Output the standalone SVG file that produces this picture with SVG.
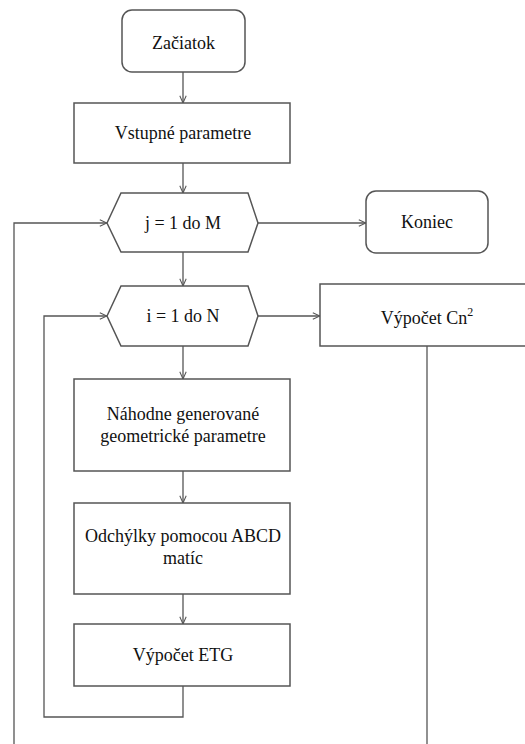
<svg xmlns="http://www.w3.org/2000/svg" width="525" height="744" viewBox="0 0 525 744" font-family="Liberation Serif, DejaVu Serif, serif">
<style>
.n{fill:#fff;stroke:#555;stroke-width:1.5}
.c{fill:none;stroke:#555;stroke-width:1.3}
.t{font-size:18px;fill:#111;text-anchor:middle}
</style>
<defs>
<marker id="a" viewBox="0 0 10 10" refX="10" refY="5" markerWidth="8" markerHeight="8" orient="auto" markerUnits="userSpaceOnUse">
<path d="M1,1 L10,5 L1,9" fill="none" stroke="#555" stroke-width="1.3"/>
</marker>
</defs>
<rect width="525" height="744" fill="#fff"/>
<g id="connectors">
<path class="c" d="M183,72 V103" marker-end="url(#a)"/>
<path class="c" d="M183,163 V193" marker-end="url(#a)"/>
<path class="c" d="M258,223 H366" marker-end="url(#a)"/>
<path class="c" d="M183,252 V286" marker-end="url(#a)"/>
<path class="c" d="M258,316 H320" marker-end="url(#a)"/>
<path class="c" d="M183,346 V379" marker-end="url(#a)"/>
<path class="c" d="M183,471 V503" marker-end="url(#a)"/>
<path class="c" d="M183,594 V624" marker-end="url(#a)"/>
<path class="c" d="M183,686 V717 H44 V316 H107" marker-end="url(#a)"/>
<path class="c" d="M14,744 V223 H107" marker-end="url(#a)"/>
<path class="c" d="M427,346 V744"/>
</g>
<g id="start">
<rect class="n" x="122" y="10" width="123" height="62" rx="10"/>
<text class="t" font-family="Liberation Serif" x="183.5" y="49">Začiatok</text>
</g>
<g id="input">
<rect class="n" x="74" y="103" width="216" height="60"/>
<text class="t" font-family="Liberation Serif" x="183" y="139">Vstupné parametre</text>
</g>
<g id="loopj">
<polygon class="n" points="107,223 121,193 248,193 258,223 248,252 121,252"/>
<text class="t" font-family="Liberation Serif" x="183" y="229">j = 1 do M</text>
</g>
<g id="end">
<rect class="n" x="366" y="191" width="122" height="62" rx="10"/>
<text class="t" font-family="Liberation Serif" x="427" y="228">Koniec</text>
</g>
<g id="loopi">
<polygon class="n" points="107,316 121,286 248,286 258,316 248,346 121,346"/>
<text class="t" font-family="Liberation Serif" x="183" y="322">i = 1 do N</text>
</g>
<g id="cn">
<rect class="n" x="320" y="284" width="210" height="62"/>
<text class="t" font-family="Liberation Serif" x="427" y="324">Výpočet Cn<tspan dy="-8" font-size="12">2</tspan></text>
</g>
<g id="random">
<rect class="n" x="74" y="379" width="216" height="92"/>
<text class="t" font-family="Liberation Serif" x="183" y="420">Náhodne generované</text>
<text class="t" font-family="Liberation Serif" x="183" y="442">geometrické parametre</text>
</g>
<g id="abcd">
<rect class="n" x="74" y="503" width="216" height="91"/>
<text class="t" font-family="Liberation Serif" x="183" y="542">Odchýlky pomocou ABCD</text>
<text class="t" font-family="Liberation Serif" x="183" y="564">matíc</text>
</g>
<g id="etg">
<rect class="n" x="74" y="624" width="216" height="62"/>
<text class="t" font-family="Liberation Serif" x="183" y="661">Výpočet ETG</text>
</g>
</svg>
